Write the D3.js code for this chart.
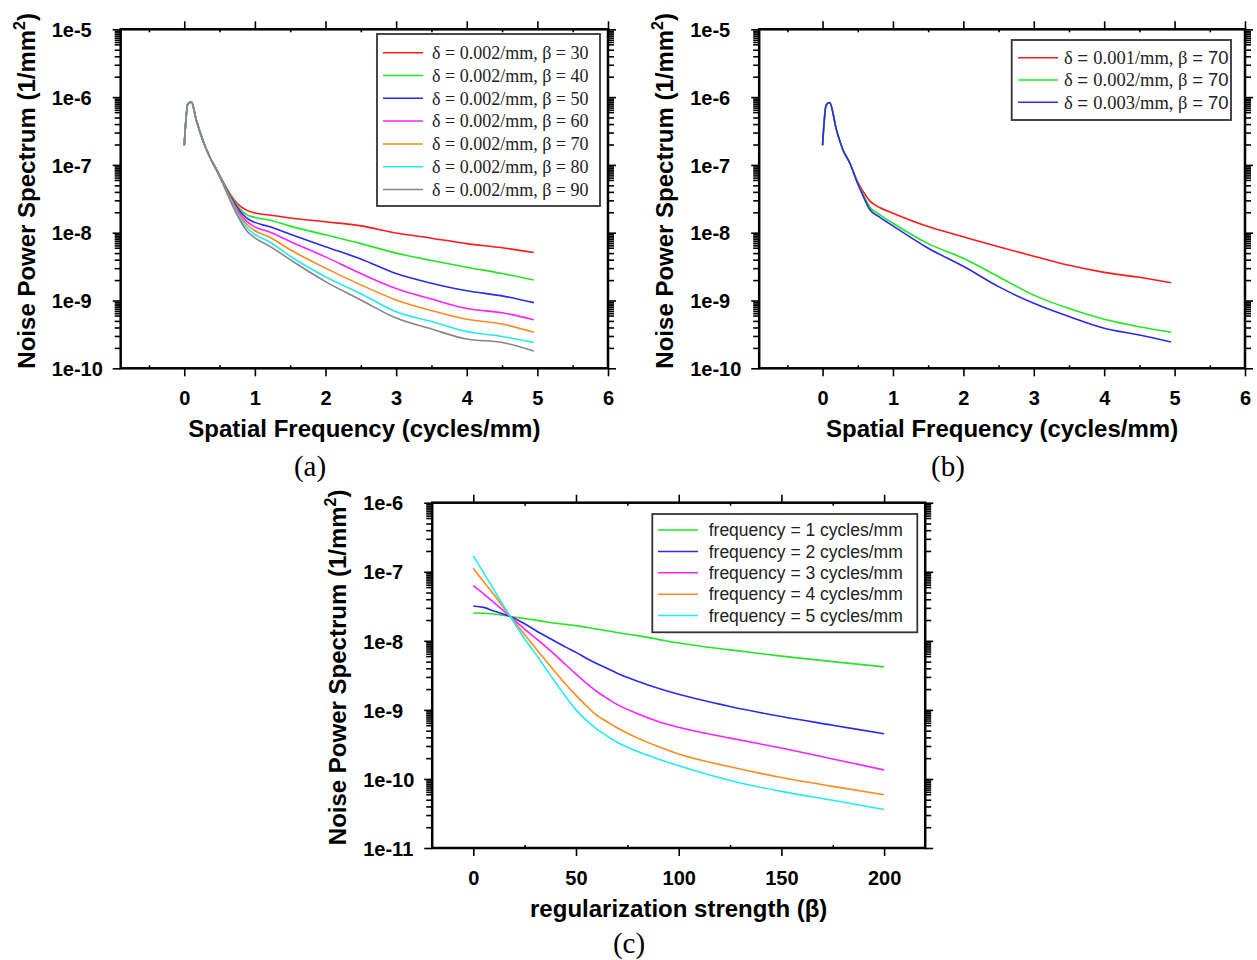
<!DOCTYPE html>
<html>
<head>
<meta charset="utf-8">
<script src="https://cdn.jsdelivr.net/npm/d3@7/dist/d3.min.js"></script>
<style>
  body { margin: 0; background: #fff; }
  svg { display: block; background: #fff; }
  .tick line { stroke: #000; stroke-width: 1.6px; }
  .tick text { font-family: Arial, "Liberation Sans", sans-serif; font-weight: bold; font-size: 20px; fill: #000; }
  .title { font-family: Arial, "Liberation Sans", sans-serif; font-weight: bold; font-size: 24px; fill: #000; }
  .caption { font-family: "Times New Roman", "Liberation Serif", serif; font-size: 29px; fill: #000; }
  .serif { font-family: "Times New Roman", "Liberation Serif", serif; }
  .sans { font-family: Arial, "Liberation Sans", sans-serif; }
</style>
</head>
<body>
<svg id="fig" width="1257" height="960"></svg>
<script>
// ---------- panel (a): NPS vs frequency, delta fixed, beta varies ----------
const freqA = [0, 0.05, 0.1, 0.17, 0.27, 0.36, 0.46, 0.55, 0.65, 0.75, 0.88, 1.0, 1.2, 1.5, 2.0, 2.5, 3.0, 3.5, 4.0, 4.5, 4.95];
const npsA30 = [1.95e-7, 7.9e-7, 8.5e-7, 4.6e-7, 2.2e-7, 1.32e-7, 8.5e-8, 5.6e-8, 3.7e-8, 2.7e-8, 2.15e-8, 1.95e-8, 1.82e-8, 1.65e-8, 1.45e-8, 1.26e-8, 9.9e-9, 8.3e-9, 6.9e-9, 6.0e-9, 5.1e-9];
const npsA40 = [1.95e-7, 7.9e-7, 8.5e-7, 4.6e-7, 2.2e-7, 1.32e-7, 8.4e-8, 5.5e-8, 3.6e-8, 2.5e-8, 1.85e-8, 1.68e-8, 1.54e-8, 1.25e-8, 9.3e-9, 6.9e-9, 5.0e-9, 3.9e-9, 3.1e-9, 2.5e-9, 2.0e-9];
const npsA50 = [1.95e-7, 7.9e-7, 8.5e-7, 4.6e-7, 2.2e-7, 1.32e-7, 8.4e-8, 5.4e-8, 3.5e-8, 2.35e-8, 1.65e-8, 1.42e-8, 1.23e-8, 9.5e-9, 6.2e-9, 4.1e-9, 2.5e-9, 1.8e-9, 1.39e-9, 1.17e-9, 9.3e-10];
const npsA60 = [1.95e-7, 7.9e-7, 8.5e-7, 4.6e-7, 2.2e-7, 1.32e-7, 8.3e-8, 5.3e-8, 3.35e-8, 2.2e-8, 1.48e-8, 1.22e-8, 1.03e-8, 7.4e-9, 4.4e-9, 2.5e-9, 1.5e-9, 1.05e-9, 7.6e-10, 6.6e-10, 5.2e-10];
const npsA70 = [1.95e-7, 7.9e-7, 8.5e-7, 4.6e-7, 2.2e-7, 1.32e-7, 8.3e-8, 5.3e-8, 3.25e-8, 2.05e-8, 1.33e-8, 1.07e-8, 8.7e-9, 5.6e-9, 3.0e-9, 1.7e-9, 1.02e-9, 7.1e-10, 5.3e-10, 4.5e-10, 3.4e-10];
const npsA80 = [1.95e-7, 7.9e-7, 8.5e-7, 4.6e-7, 2.2e-7, 1.32e-7, 8.2e-8, 5.2e-8, 3.1e-8, 1.92e-8, 1.2e-8, 9.4e-9, 7.4e-9, 4.5e-9, 2.24e-9, 1.26e-9, 6.8e-10, 4.9e-10, 3.5e-10, 2.95e-10, 2.4e-10];
const npsA90 = [1.95e-7, 7.9e-7, 8.5e-7, 4.6e-7, 2.2e-7, 1.32e-7, 8.2e-8, 5.2e-8, 3.0e-8, 1.82e-8, 1.08e-8, 8.4e-9, 6.4e-9, 4.0e-9, 1.9e-9, 1.02e-9, 5.5e-10, 3.8e-10, 2.7e-10, 2.4e-10, 1.8e-10];
const labelsA = ['δ = 0.002/mm, β = 30', 'δ = 0.002/mm, β = 40', 'δ = 0.002/mm, β = 50', 'δ = 0.002/mm, β = 60',
  'δ = 0.002/mm, β = 70', 'δ = 0.002/mm, β = 80', 'δ = 0.002/mm, β = 90'];

// ---------- panel (b): NPS vs frequency, beta fixed, delta varies ----------
const freqB = [0, 0.05, 0.1, 0.2, 0.29, 0.39, 0.48, 0.58, 0.67, 0.81, 1.0, 1.5, 2.0, 2.5, 3.0, 3.5, 4.0, 4.5, 4.95];
const npsB001 = [1.95e-7, 7.6e-7, 8.3e-7, 3.2e-7, 1.66e-7, 1.05e-7, 6.2e-8, 4.0e-8, 2.95e-8, 2.35e-8, 1.94e-8, 1.23e-8, 8.7e-9, 6.2e-9, 4.5e-9, 3.3e-9, 2.6e-9, 2.2e-9, 1.83e-9];
const npsB002 = [1.95e-7, 7.6e-7, 8.3e-7, 3.2e-7, 1.66e-7, 1.05e-7, 6.0e-8, 3.6e-8, 2.4e-8, 1.85e-8, 1.38e-8, 6.9e-9, 4.2e-9, 2.24e-9, 1.2e-9, 7.6e-10, 5.3e-10, 4.1e-10, 3.4e-10];
const npsB003 = [1.95e-7, 7.6e-7, 8.3e-7, 3.2e-7, 1.66e-7, 1.05e-7, 5.9e-8, 3.4e-8, 2.2e-8, 1.7e-8, 1.26e-8, 5.9e-9, 3.2e-9, 1.6e-9, 9.1e-10, 5.8e-10, 3.9e-10, 3.1e-10, 2.45e-10];
const labelsB = ['δ = 0.001/mm, β = 70', 'δ = 0.002/mm, β = 70', 'δ = 0.003/mm, β = 70'];

// ---------- panel (c): NPS vs beta at fixed frequencies ----------
const betaC = [0, 5, 10, 18, 25, 32, 40, 45, 50, 55, 60, 65, 70, 80, 90, 100, 125, 150, 175, 200];
const npsC1 = [2.53e-8, 2.51e-8, 2.45e-8, 2.25e-8, 2.1e-8, 1.96e-8, 1.8e-8, 1.73e-8, 1.66e-8, 1.57e-8, 1.48e-8, 1.4e-8, 1.32e-8, 1.19e-8, 1.05e-8, 9.3e-9, 7.4e-9, 6.0e-9, 5.0e-9, 4.2e-9];
const npsC2 = [3.2e-8, 3.05e-8, 2.7e-8, 2.25e-8, 1.77e-8, 1.32e-8, 9.8e-9, 8.1e-9, 6.8e-9, 5.6e-9, 4.7e-9, 4.0e-9, 3.4e-9, 2.6e-9, 2.05e-9, 1.68e-9, 1.12e-9, 8.0e-10, 6.0e-10, 4.5e-10];
const npsC3 = [6.3e-8, 4.8e-8, 3.6e-8, 2.25e-8, 1.48e-8, 1.0e-8, 6.2e-9, 4.5e-9, 3.3e-9, 2.45e-9, 1.86e-9, 1.48e-9, 1.2e-9, 8.8e-10, 6.8e-10, 5.6e-10, 3.9e-10, 2.8e-10, 1.95e-10, 1.35e-10];
const npsC4 = [1.12e-7, 7.2e-8, 4.7e-8, 2.25e-8, 1.23e-8, 6.8e-9, 3.5e-9, 2.35e-9, 1.62e-9, 1.15e-9, 8.4e-10, 6.8e-10, 5.5e-10, 3.9e-10, 2.95e-10, 2.3e-10, 1.5e-10, 1.05e-10, 7.8e-11, 5.9e-11];
const npsC5 = [1.7e-7, 9.7e-8, 5.5e-8, 2.25e-8, 1.07e-8, 5.5e-9, 2.5e-9, 1.55e-9, 1.0e-9, 7.1e-10, 5.3e-10, 4.2e-10, 3.4e-10, 2.5e-10, 1.95e-10, 1.55e-10, 9.5e-11, 6.6e-11, 4.9e-11, 3.6e-11];
const labelsC = ['frequency = 1 cycles/mm', 'frequency = 2 cycles/mm', 'frequency = 3 cycles/mm',
  'frequency = 4 cycles/mm', 'frequency = 5 cycles/mm'];

// ---------- axes ----------
const xTicksAB = [0, 1, 2, 3, 4, 5, 6];
const xMinorAB = [-0.5, 0.5, 1.5, 2.5, 3.5, 4.5, 5.5];
const yDecadesAB = [1e-10, 1e-9, 1e-8, 1e-7, 1e-6, 1e-5];
const xTicksC = [0, 50, 100, 150, 200];
const xMinorC = [25, 75, 125, 175];
const yDecadesC = [1e-11, 1e-10, 1e-9, 1e-8, 1e-7, 1e-6];
const minorMults = [2, 3, 4, 5, 6, 6.5, 7, 7.5, 8, 8.5, 9, 9.5];

const RED = '#ff1a1a', GREEN = '#22e622', BLUE = '#2a2af0', MAGENTA = '#ff22ff',
  ORANGE = '#ff8a1c', CYAN = '#22eaf2', GRAY = '#858585';

const svg = d3.select('#fig');

function logMinors(decades) {
  const out = [];
  decades.slice(0, -1).forEach(d => minorMults.forEach(m => out.push(d * m)));
  return out;
}

function stripDomain(sel) {
  sel.select('.domain').remove();
}

function drawPanel(p) {
  const g = svg.append('g');
  const x = d3.scaleLinear().domain(p.xDomain).range([p.left, p.right]);
  const y = d3.scaleLog().domain([p.yDecades[0], p.yDecades[p.yDecades.length - 1]]).range([p.bottom, p.top]);

  // left / right log ticks
  g.append('g').attr('transform', `translate(${p.left},0)`)
    .call(d3.axisLeft(y).tickValues(logMinors(p.yDecades)).tickSize(6).tickFormat(''))
    .call(stripDomain);
  g.append('g').attr('transform', `translate(${p.left},0)`)
    .call(d3.axisLeft(y).tickValues(p.yDecades).tickSize(8).tickFormat(d => '1e' + Math.round(Math.log10(d))))
    .call(stripDomain)
    .call(s => s.selectAll('text').attr('x', -69).attr('text-anchor', 'start').attr('dy', '0.36em'));
  g.append('g').attr('transform', `translate(${p.right},0)`)
    .call(d3.axisRight(y).tickValues(logMinors(p.yDecades)).tickSize(6).tickFormat(''))
    .call(stripDomain);
  g.append('g').attr('transform', `translate(${p.right},0)`)
    .call(d3.axisRight(y).tickValues(p.yDecades).tickSize(8).tickFormat(''))
    .call(stripDomain);

  // bottom / top linear ticks
  g.append('g').attr('transform', `translate(0,${p.bottom})`)
    .call(d3.axisBottom(x).tickValues(p.xTicks).tickSize(8).tickPadding(15).tickFormat(d3.format('d')))
    .call(stripDomain);
  g.append('g').attr('transform', `translate(0,${p.bottom})`)
    .call(d3.axisBottom(x).tickValues(p.xMinor).tickSize(-3).tickFormat(''))
    .call(stripDomain);
  g.append('g').attr('transform', `translate(0,${p.top})`)
    .call(d3.axisTop(x).tickValues(p.xTicks).tickSize(8).tickFormat(''))
    .call(stripDomain);
  g.append('g').attr('transform', `translate(0,${p.top})`)
    .call(d3.axisTop(x).tickValues(p.xMinor).tickSize(-3).tickFormat(''))
    .call(stripDomain);

  // data lines
  const line = d3.line().x(d => x(d[0])).y(d => y(d[1])).curve(d3.curveMonotoneX);
  p.series.forEach(s => {
    g.append('path')
      .datum(d3.zip(p.xs, s.values))
      .attr('d', line)
      .attr('fill', 'none')
      .attr('stroke', s.color)
      .attr('stroke-width', 1.6)
      .attr('stroke-linejoin', 'round');
  });

  // frame
  g.append('rect')
    .attr('x', p.left).attr('y', p.top)
    .attr('width', p.right - p.left).attr('height', p.bottom - p.top)
    .attr('fill', 'none').attr('stroke', '#000').attr('stroke-width', 2.5);

  // legend
  const L = p.legend;
  const lg = g.append('g');
  lg.append('rect')
    .attr('x', L.x).attr('y', L.y).attr('width', L.w).attr('height', L.h)
    .attr('fill', '#fff').attr('stroke', '#333').attr('stroke-width', 1.8);
  p.series.forEach((s, i) => {
    const yy = L.y0 + i * L.dy;
    lg.append('line')
      .attr('x1', L.lx1).attr('x2', L.lx2).attr('y1', yy).attr('y2', yy)
      .attr('stroke', s.color).attr('stroke-width', 1.5);
    const t = lg.append('text')
      .attr('x', L.tx).attr('y', yy).attr('dy', '0.35em')
      .attr('font-size', L.fontSize).attr('fill', '#222');
    if (L.style === 'serif') {
      t.attr('class', 'serif').text(s.label);
    } else if (L.style === 'sans') {
      t.attr('class', 'sans').text(s.label);
    } else {
      // mixed: greek letters and numbers in serif, "=" and beta value in sans
      const m = s.label.match(/^(δ) = (\S+) (β) = (\d+)$/);
      t.append('tspan').attr('class', 'serif').text(m[1] + ' ');
      t.append('tspan').attr('class', 'sans').text('= ');
      t.append('tspan').attr('class', 'serif').text(m[2] + ' ' + m[3] + ' ');
      t.append('tspan').attr('class', 'sans').text('= ' + m[4]);
    }
  });

  // axis titles
  const yt = g.append('text')
    .attr('class', 'title')
    .attr('transform', `translate(${p.left - 86},${(p.top + p.bottom) / 2 - 8}) rotate(-90)`)
    .attr('text-anchor', 'middle');
  yt.append('tspan').text('Noise Power Spectrum (1/mm');
  yt.append('tspan').attr('font-size', '16px').attr('dy', -10).text('2');
  yt.append('tspan').attr('dy', 10).text(')');

  g.append('text')
    .attr('class', 'title')
    .attr('x', (p.left + p.right) / 2).attr('y', p.bottom + 69)
    .attr('text-anchor', 'middle')
    .text(p.xTitle);

  g.append('text')
    .attr('class', 'caption')
    .attr('x', p.capX).attr('y', p.capY)
    .attr('text-anchor', 'middle')
    .text(p.caption);
}

drawPanel({
  left: 120.7, right: 608, top: 29.3, bottom: 368.3,
  xDomain: [-0.9, 6], xTicks: xTicksAB, xMinor: xMinorAB, yDecades: yDecadesAB,
  xs: freqA,
  series: [
    { values: npsA30, color: RED, label: labelsA[0] },
    { values: npsA40, color: GREEN, label: labelsA[1] },
    { values: npsA50, color: BLUE, label: labelsA[2] },
    { values: npsA60, color: MAGENTA, label: labelsA[3] },
    { values: npsA70, color: ORANGE, label: labelsA[4] },
    { values: npsA80, color: CYAN, label: labelsA[5] },
    { values: npsA90, color: GRAY, label: labelsA[6] }
  ],
  legend: { x: 377, y: 34, w: 223, h: 172, y0: 52.7, dy: 22.8, lx1: 383, lx2: 423, tx: 432, fontSize: '18px', style: 'serif' },
  xTitle: 'Spatial Frequency (cycles/mm)',
  caption: '(a)', capX: 310, capY: 476
});

drawPanel({
  left: 759.2, right: 1245, top: 29.3, bottom: 368.3,
  xDomain: [-0.9, 6], xTicks: xTicksAB, xMinor: xMinorAB, yDecades: yDecadesAB,
  xs: freqB,
  series: [
    { values: npsB001, color: RED, label: labelsB[0] },
    { values: npsB002, color: GREEN, label: labelsB[1] },
    { values: npsB003, color: BLUE, label: labelsB[2] }
  ],
  legend: { x: 1011.7, y: 40, w: 219.3, h: 80, y0: 57.7, dy: 22.3, lx1: 1018, lx2: 1058, tx: 1064, fontSize: '18.5px', style: 'mixed' },
  xTitle: 'Spatial Frequency (cycles/mm)',
  caption: '(b)', capX: 948, capY: 476
});

drawPanel({
  left: 432.2, right: 925.2, top: 502.7, bottom: 848,
  xDomain: [-20, 220], xTicks: xTicksC, xMinor: xMinorC, yDecades: yDecadesC,
  xs: betaC,
  series: [
    { values: npsC1, color: GREEN, label: labelsC[0] },
    { values: npsC2, color: BLUE, label: labelsC[1] },
    { values: npsC3, color: MAGENTA, label: labelsC[2] },
    { values: npsC4, color: ORANGE, label: labelsC[3] },
    { values: npsC5, color: CYAN, label: labelsC[4] }
  ],
  legend: { x: 652.3, y: 514, w: 265, h: 118.3, y0: 530, dy: 21.4, lx1: 658, lx2: 698, tx: 708.7, fontSize: '17.5px', style: 'sans' },
  xTitle: 'regularization strength (β)',
  caption: '(c)', capX: 629, capY: 953
});
</script>
</body>
</html>
